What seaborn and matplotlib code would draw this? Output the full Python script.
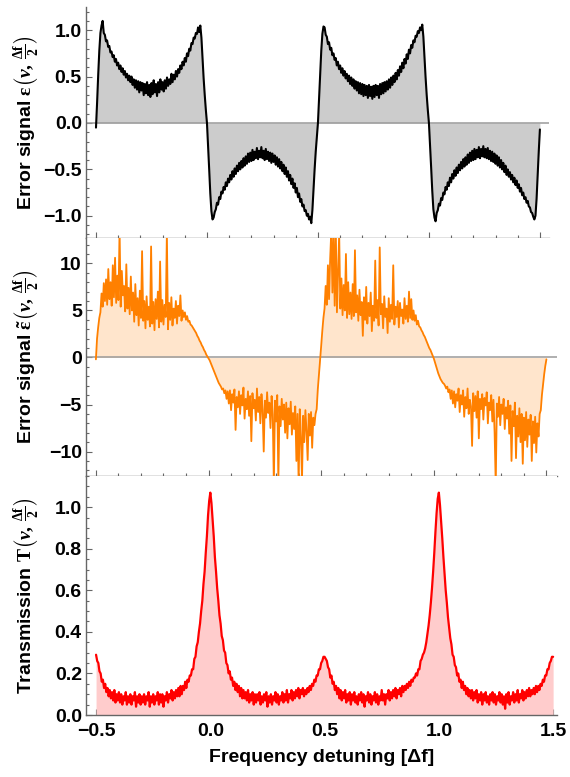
import numpy as np
import pandas as pd
import matplotlib
matplotlib.use("Agg")
import matplotlib.pyplot as plt
from matplotlib.ticker import MultipleLocator
import seaborn as sns

# detuning range, all three traces are sampled every 0.005 from -0.5 to 1.5
X_START, X_STOP = -0.5, 1.5

# error signal eps(nu, df/2)
eps = [
    -0.05, 0.22, 0.52, 0.78, 0.97, 1.05, 1.10, 0.97, 0.95, 0.88,
    0.89, 0.82, 0.83, 0.76, 0.77, 0.71, 0.73, 0.66, 0.69, 0.62,
    0.65, 0.58, 0.62, 0.55, 0.59, 0.52, 0.56, 0.49, 0.53, 0.46,
    0.51, 0.44, 0.50, 0.41, 0.47, 0.38, 0.46, 0.36, 0.45, 0.33,
    0.44, 0.35, 0.43, 0.30, 0.42, 0.32, 0.44, 0.30, 0.41, 0.28,
    0.43, 0.31, 0.46, 0.33, 0.42, 0.29, 0.44, 0.33, 0.47, 0.36,
    0.44, 0.34, 0.46, 0.37, 0.49, 0.40, 0.47, 0.42, 0.53, 0.44,
    0.52, 0.47, 0.56, 0.50, 0.58, 0.54, 0.62, 0.58, 0.66, 0.62,
    0.70, 0.66, 0.75, 0.72, 0.80, 0.78, 0.86, 0.85, 0.92, 0.91,
    0.97, 0.96, 1.03, 0.98, 1.05, 0.92, 0.70, 0.48, 0.30, 0.14,
    0.00,
    -0.24, -0.50, -0.76, -0.95, -1.04, -1.02, -0.96, -0.93, -0.86, -0.88,
    -0.80, -0.82, -0.74, -0.76, -0.69, -0.72, -0.64, -0.68, -0.60, -0.64,
    -0.56, -0.61, -0.52, -0.58, -0.49, -0.55, -0.46, -0.52, -0.43, -0.50,
    -0.41, -0.48, -0.38, -0.46, -0.36, -0.44, -0.33, -0.42, -0.32, -0.41,
    -0.29, -0.40, -0.31, -0.38, -0.27, -0.39, -0.30, -0.37, -0.26, -0.38,
    -0.30, -0.40, -0.28, -0.39, -0.31, -0.41, -0.32, -0.43, -0.33, -0.42,
    -0.35, -0.45, -0.37, -0.47, -0.39, -0.49, -0.42, -0.52, -0.45, -0.55,
    -0.48, -0.58, -0.52, -0.62, -0.56, -0.66, -0.60, -0.70, -0.65, -0.75,
    -0.70, -0.80, -0.76, -0.85, -0.82, -0.90, -0.88, -0.95, -0.94, -1.00,
    -0.98, -1.04, -1.01, -1.08, -0.94, -0.72, -0.50, -0.31, -0.15, 0.00,
    0.25, 0.52, 0.78, 0.96, 1.04, 1.03, 0.95, 0.93, 0.85, 0.87,
    0.79, 0.81, 0.73, 0.75, 0.68, 0.70, 0.62, 0.66, 0.58, 0.62,
    0.54, 0.59, 0.51, 0.56, 0.48, 0.53, 0.45, 0.51, 0.42, 0.49,
    0.40, 0.47, 0.37, 0.45, 0.35, 0.44, 0.32, 0.43, 0.31, 0.42,
    0.29, 0.41, 0.30, 0.40, 0.27, 0.41, 0.29, 0.39, 0.26, 0.40,
    0.28, 0.41, 0.30, 0.40, 0.27, 0.42, 0.31, 0.43, 0.32, 0.44,
    0.34, 0.45, 0.36, 0.47, 0.38, 0.49, 0.41, 0.51, 0.44, 0.54,
    0.47, 0.57, 0.51, 0.61, 0.55, 0.65, 0.59, 0.69, 0.64, 0.74,
    0.69, 0.79, 0.75, 0.84, 0.81, 0.89, 0.87, 0.94, 0.93, 0.99,
    0.97, 1.03, 1.00, 1.06, 0.93, 0.71, 0.49, 0.30, 0.14, 0.00,
    -0.23, -0.48, -0.73, -0.93, -1.02, -1.06, -0.97, -0.94, -0.87, -0.89,
    -0.81, -0.83, -0.75, -0.77, -0.69, -0.72, -0.64, -0.68, -0.59, -0.64,
    -0.55, -0.60, -0.51, -0.57, -0.48, -0.54, -0.45, -0.51, -0.42, -0.49,
    -0.39, -0.47, -0.37, -0.45, -0.34, -0.43, -0.32, -0.41, -0.30, -0.40,
    -0.28, -0.39, -0.29, -0.37, -0.26, -0.38, -0.28, -0.36, -0.25, -0.37,
    -0.28, -0.38, -0.27, -0.39, -0.30, -0.41, -0.31, -0.42, -0.33, -0.44,
    -0.35, -0.46, -0.37, -0.48, -0.40, -0.50, -0.43, -0.53, -0.46, -0.56,
    -0.50, -0.58, -0.53, -0.61, -0.56, -0.64, -0.59, -0.67, -0.62, -0.70,
    -0.66, -0.74, -0.70, -0.78, -0.75, -0.82, -0.80, -0.86, -0.84, -0.90,
    -0.91, -0.96, -0.97, -1.01, -1.04, -1.00, -0.82, -0.55, -0.30, -0.07,
]

# modified error signal eps~(nu, df/2)
eps_tilde = [
    -0.2, 2.0, 3.2, 4.2, 4.8, 6.8, 5.4, 7.9, 6.0, 8.3,
    5.6, 9.4, 6.2, 8.0, 5.5, 9.8, 6.4, 10.6, 5.8, 8.7,
    6.1, 13.5, 5.4, 9.2, 6.6, 7.6, 4.9, 9.9, 5.2, 7.4,
    4.6, 8.6, 5.0, 6.9, 3.8, 7.8, 4.5, 6.3, 3.4, 7.1,
    4.2, 11.3, 3.9, 6.0, 3.1, 6.5, 4.0, 5.4, 3.3, 11.8,
    3.6, 5.9, 2.9, 6.2, 4.1, 7.0, 3.2, 10.2, 3.8, 6.1,
    3.5, 5.6, 4.3, 13.2, 3.0, 5.8, 4.0, 6.4, 3.4, 5.2,
    4.2, 6.0, 3.6, 5.5, 4.4, 6.6, 3.9, 5.0, 4.3, 4.8,
    4.0, 4.4, 3.8, 3.9, 3.5, 3.4, 3.2, 3.0, 2.8, 2.6,
    2.3, 2.1, 1.8, 1.6, 1.3, 1.1, 0.8, 0.6, 0.3, 0.1,
    -0.1,
    -0.3, -0.6, -0.9, -1.2, -1.5, -1.8, -2.1, -2.4, -2.7, -2.9,
    -3.1, -3.4, -3.3, -3.8, -3.5, -4.4, -3.6, -4.9, -3.5, -5.6,
    -3.9, -4.8, -3.4, -7.7, -4.2, -5.3, -3.6, -6.0, -4.0, -5.1,
    -3.2, -6.5, -4.4, -5.5, -3.6, -6.2, -4.1, -8.9, -3.8, -5.4,
    -4.5, -6.7, -3.3, -5.8, -4.2, -7.0, -3.9, -5.6, -10.0, -4.6,
    -6.4, -3.7, -5.9, -4.8, -7.5, -4.1, -6.1, -13.5, -4.6, -6.8,
    -4.0, -13.2, -5.2, -7.3, -4.4, -6.6, -5.0, -8.0, -4.8, -8.6,
    -5.4, -7.1, -4.7, -8.2, -5.9, -7.6, -5.2, -11.0, -6.0, -13.4,
    -5.5, -8.4, -13.0, -6.2, -9.0, -5.6, -7.8, -10.9, -6.0, -8.3,
    -5.8, -9.6, -6.4, -7.2, -6.0, -5.5, -3.4, -1.9, -0.4, 1.2,
    2.8, 4.2, 5.2, 7.6, 5.6, 9.8, 6.2, 10.5, 13.5, 6.9,
    13.4, 5.5, 13.6, 4.8, 9.1, 13.2, 5.2, 8.4, 4.5, 7.7,
    5.0, 11.0, 4.2, 8.0, 4.6, 6.9, 4.1, 7.8, 4.4, 11.4,
    4.8, 6.6, 3.9, 7.2, 4.5, 5.9, 2.3, 6.4, 4.0, 7.5,
    3.6, 5.8, 4.4, 6.9, 2.8, 5.5, 3.9, 10.3, 4.2, 6.1,
    3.4, 11.7, 4.6, 5.7, 3.1, 6.5, 4.3, 5.2, 2.6, 6.3,
    3.8, 5.6, 4.1, 9.8, 3.5, 5.4, 4.3, 6.0, 3.2, 5.8,
    4.4, 5.1, 3.6, 6.3, 4.1, 5.5, 3.8, 7.0, 4.2, 6.2,
    4.0, 5.0, 3.9, 4.5, 3.5, 3.9, 3.3, 3.2, 2.9, 2.7,
    2.4, 2.2, 1.9, 1.6, 1.3, 1.0, 0.8, 0.5, 0.2, -0.1,
    -0.5, -0.9, -1.3, -1.7, -2.0, -2.3, -2.5, -2.7, -2.8, -3.0,
    -3.3, -3.1, -3.7, -3.4, -4.4, -3.5, -4.9, -3.6, -5.3, -3.9,
    -4.6, -3.3, -5.8, -4.0, -5.0, -3.5, -6.3, -4.2, -5.4, -3.3,
    -6.0, -4.5, -5.2, -9.4, -3.8, -5.7, -4.1, -6.4, -3.6, -8.6,
    -4.4, -5.5, -3.9, -6.6, -4.3, -5.1, -3.7, -7.0, -4.8, -5.6,
    -4.0, -6.8, -4.5, -8.0, -13.5, -4.9, -6.3, -4.2, -7.2, -5.0,
    -6.0, -4.4, -7.6, -5.3, -6.5, -4.6, -8.1, -5.1, -11.0, -5.7,
    -7.3, -4.8, -10.7, -6.2, -8.4, -5.4, -9.0, -6.0, -11.3, -6.4,
    -8.8, -5.8, -9.5, -6.6, -8.2, -6.1, -11.0, -6.8, -9.1, -6.3,
    -10.1, -7.0, -8.4, -6.0, -5.6, -4.0, -2.9, -1.8, -0.9, -0.2,
]

# transmission T(nu, df/2)
transmission = [
    0.29, 0.26, 0.25, 0.21, 0.20, 0.16, 0.17, 0.13, 0.15, 0.11,
    0.13, 0.09, 0.12, 0.08, 0.11, 0.07, 0.12, 0.06, 0.10, 0.07,
    0.11, 0.06, 0.10, 0.05, 0.09, 0.07, 0.11, 0.05, 0.09, 0.06,
    0.10, 0.05, 0.09, 0.07, 0.11, 0.04, 0.09, 0.06, 0.10, 0.05,
    0.09, 0.06, 0.10, 0.05, 0.09, 0.07, 0.11, 0.04, 0.09, 0.06,
    0.10, 0.05, 0.09, 0.07, 0.11, 0.05, 0.10, 0.06, 0.10, 0.04,
    0.09, 0.07, 0.11, 0.06, 0.10, 0.08, 0.12, 0.07, 0.11, 0.08,
    0.12, 0.09, 0.13, 0.09, 0.14, 0.10, 0.14, 0.12, 0.16, 0.13,
    0.17, 0.16, 0.19, 0.19, 0.22, 0.22, 0.27, 0.28, 0.33, 0.35,
    0.40, 0.44, 0.50, 0.55, 0.63, 0.69, 0.78, 0.86, 0.96, 1.03,
    1.07, 1.02, 0.94, 0.86, 0.76, 0.69, 0.61, 0.55, 0.48, 0.44,
    0.38, 0.36, 0.31, 0.30, 0.25, 0.24, 0.20, 0.21, 0.17, 0.18,
    0.14, 0.16, 0.12, 0.15, 0.11, 0.14, 0.09, 0.13, 0.08, 0.12,
    0.08, 0.11, 0.07, 0.12, 0.06, 0.10, 0.07, 0.11, 0.05, 0.10,
    0.06, 0.10, 0.07, 0.11, 0.05, 0.09, 0.06, 0.10, 0.07, 0.11,
    0.04, 0.09, 0.06, 0.10, 0.05, 0.09, 0.07, 0.11, 0.06, 0.10,
    0.05, 0.09, 0.07, 0.11, 0.06, 0.10, 0.07, 0.12, 0.06, 0.10,
    0.08, 0.12, 0.07, 0.11, 0.08, 0.12, 0.09, 0.13, 0.08, 0.12,
    0.10, 0.13, 0.09, 0.12, 0.10, 0.13, 0.11, 0.14, 0.12, 0.15,
    0.14, 0.17, 0.16, 0.19, 0.19, 0.22, 0.22, 0.25, 0.26, 0.28,
    0.28, 0.27, 0.26, 0.23, 0.22, 0.18, 0.19, 0.15, 0.16, 0.12,
    0.14, 0.10, 0.13, 0.08, 0.12, 0.07, 0.11, 0.08, 0.12, 0.06,
    0.10, 0.07, 0.11, 0.05, 0.10, 0.07, 0.11, 0.06, 0.09, 0.05,
    0.10, 0.07, 0.11, 0.06, 0.10, 0.04, 0.09, 0.07, 0.11, 0.06,
    0.10, 0.05, 0.09, 0.07, 0.11, 0.06, 0.10, 0.05, 0.09, 0.07,
    0.12, 0.07, 0.10, 0.05, 0.10, 0.08, 0.12, 0.07, 0.11, 0.08,
    0.12, 0.09, 0.13, 0.08, 0.12, 0.10, 0.13, 0.09, 0.14, 0.11,
    0.14, 0.12, 0.15, 0.13, 0.16, 0.14, 0.17, 0.16, 0.18, 0.18,
    0.20, 0.19, 0.22, 0.22, 0.26, 0.27, 0.29, 0.30, 0.32, 0.35,
    0.39, 0.43, 0.48, 0.54, 0.61, 0.69, 0.78, 0.88, 0.97, 1.04,
    1.07, 1.01, 0.93, 0.85, 0.76, 0.68, 0.60, 0.54, 0.47, 0.42,
    0.37, 0.34, 0.29, 0.28, 0.24, 0.23, 0.19, 0.20, 0.16, 0.17,
    0.13, 0.16, 0.12, 0.14, 0.10, 0.13, 0.09, 0.12, 0.08, 0.12,
    0.07, 0.11, 0.08, 0.12, 0.06, 0.10, 0.07, 0.11, 0.05, 0.10,
    0.07, 0.11, 0.06, 0.09, 0.05, 0.10, 0.07, 0.11, 0.06, 0.10,
    0.05, 0.09, 0.07, 0.11, 0.06, 0.10, 0.05, 0.09, 0.03, 0.10,
    0.06, 0.11, 0.05, 0.09, 0.07, 0.11, 0.06, 0.10, 0.07, 0.12,
    0.06, 0.10, 0.08, 0.12, 0.07, 0.11, 0.08, 0.12, 0.09, 0.13,
    0.09, 0.12, 0.10, 0.13, 0.10, 0.14, 0.11, 0.14, 0.12, 0.15,
    0.14, 0.17, 0.16, 0.19, 0.19, 0.22, 0.22, 0.25, 0.26, 0.28,
    0.28,
]

for name, s in [("eps", eps), ("eps_tilde", eps_tilde), ("transmission", transmission)]:
    assert len(s) == 401, (name, len(s))

X_TICKS_MAJOR = 0.5
X_TICKS_MINOR = 0.1

FRAME = "#666666"
ZERO = "#9a9a9a"
FONT_SIZE = 14

sns.set_style("ticks")
plt.rcParams["font.family"] = ["Liberation Sans", "DejaVu Sans"]
plt.rcParams["font.weight"] = "bold"
plt.rcParams["text.color"] = "black"
plt.rcParams["axes.labelcolor"] = "black"
plt.rcParams["xtick.labelcolor"] = "black"
plt.rcParams["ytick.labelcolor"] = "black"
plt.rcParams["mathtext.fontset"] = "custom"
plt.rcParams["mathtext.rm"] = "Liberation Serif:bold"
plt.rcParams["mathtext.it"] = "Liberation Serif:italic:bold"
plt.rcParams["mathtext.bf"] = "Liberation Serif:bold"
plt.rcParams["axes.edgecolor"] = FRAME
plt.rcParams["axes.linewidth"] = 1.0

# Mathematica-style stacked panels, each one a bit different in width
fig = plt.figure(figsize=(5.7, 7.77), dpi=100)
W, H = 570.0, 777.0


def px_rect(left, right, top, bottom):
    return [left / W, 1 - bottom / H, (right - left) / W, (bottom - top) / H]


ARG = r"\left(\nu,\,\frac{\Delta \mathrm{f}}{2}\right)"

panels = [
    dict(data=eps, rect=px_rect(86, 549, 7, 238), xlim=(-0.545, 1.541),
         ylim=(-1.24, 1.25), major=0.5, minor=0.1, line="#000000", fill="#cccccc",
         lw=1.5, label="Error signal $\\mathrm{\\varepsilon}" + ARG + "$",
         zero=True, fmt="{:.1f}", label_x=-0.095),
    dict(data=eps_tilde, rect=px_rect(86, 557, 238, 476), xlim=(-0.544, 1.547),
         ylim=(-12.6, 12.7), major=5, minor=1, line="#ff8000", fill="#ffe5cc",
         lw=1.3, label="Error signal $\\tilde{\\mathrm{\\varepsilon}}" + ARG + "$",
         zero=True, fmt="{:.0f}", label_x=-0.094),
    dict(data=transmission, rect=px_rect(86, 557, 476, 715), xlim=(-0.544, 1.517),
         ylim=(0, 1.15), major=0.2, minor=0.05, line="#ff0000", fill="#ffcccc",
         lw=1.6, label="Transmission $\\mathrm{T}" + ARG + "$",
         zero=False, fmt="{:.1f}", label_x=-0.094),
]

for i, p in enumerate(panels):
    ax = fig.add_axes(p["rect"])
    y = np.array(p["data"])
    x = np.linspace(X_START, X_STOP, len(y))
    df = pd.DataFrame({"detuning": x, "signal": y})

    ax.fill_between(df["detuning"], df["signal"], 0, color=p["fill"], lw=0, zorder=1)
    if p["zero"]:
        ax.axhline(0, color=ZERO, lw=1.1, zorder=2)
    sns.lineplot(data=df, x="detuning", y="signal", ax=ax, color=p["line"],
                 lw=p["lw"], estimator=None, sort=False, zorder=3)

    ax.set_xlim(*p["xlim"])
    ax.set_ylim(*p["ylim"])
    ax.xaxis.set_major_locator(MultipleLocator(X_TICKS_MAJOR))
    ax.xaxis.set_minor_locator(MultipleLocator(X_TICKS_MINOR))
    ax.yaxis.set_major_locator(MultipleLocator(p["major"]))
    ax.yaxis.set_minor_locator(MultipleLocator(p["minor"]))
    ax.yaxis.set_major_formatter(plt.FuncFormatter(
        lambda v, _, f=p["fmt"]: f.format(v).replace("-", "\u2212")))

    ax.tick_params(which="both", direction="in", color=FRAME, width=0.8,
                   labelsize=FONT_SIZE, labelcolor="black", top=False, right=False)
    ax.tick_params(which="major", length=4.5)
    ax.tick_params(which="minor", length=2.5)
    ax.tick_params(axis="y", pad=3)
    ax.tick_params(axis="x", pad=6)

    for side in ("top", "right"):
        ax.spines[side].set_visible(False)

    ax.set_ylabel(p["label"], fontsize=FONT_SIZE, fontweight="bold", color="black")
    ax.yaxis.set_label_coords(p["label_x"], 0.5)

    if i < len(panels) - 1:
        ax.tick_params(axis="x", labelbottom=False)
        ax.set_xlabel("")
    else:
        ax.xaxis.set_major_formatter(plt.FuncFormatter(
            lambda v, _: "{:.1f}".format(v).replace("-", "\u2212")))
        ax.set_xlabel("Frequency detuning [\u0394f]", fontsize=FONT_SIZE,
                      fontweight="bold", labelpad=6, color="black")

fig.savefig("out.png", dpi=100)
